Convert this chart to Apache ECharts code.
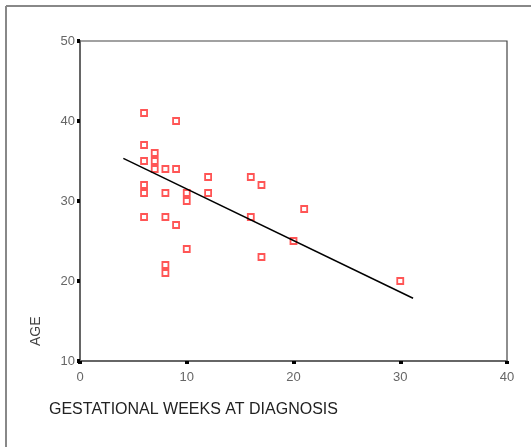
<!DOCTYPE html>
<html>
<head>
<meta charset="utf-8">
<script src="https://cdn.jsdelivr.net/npm/echarts@6/dist/echarts.min.js"></script>
<style>
html,body{margin:0;padding:0;background:#fff;}
#c{width:531px;height:447px;}
</style>
</head>
<body>
<div id="c"></div>
<script>
// Data
var weeks = [6, 9, 6, 7, 6, 7, 7, 8, 9, 12, 16, 17, 6, 6, 8, 10, 12, 10, 21, 6, 8, 16, 9, 20, 10, 17, 8, 8, 30];
var ages  = [41, 40, 37, 36, 35, 35, 34, 34, 34, 33, 33, 32, 32, 31, 31, 31, 31, 30, 29, 28, 28, 28, 27, 25, 24, 23, 22, 21, 20];
// Fit line end points as drawn in the reference
var fitX = [4.06, 31.2];
var fitY = [35.33, 17.84];
var xTicks = [0, 10, 20, 30, 40];
var yTicks = [10, 20, 30, 40, 50];
var xTitle = 'GESTATIONAL WEEKS AT DIAGNOSIS';
var yTitle = 'AGE';

var pts = weeks.map(function (w, i) { return [w, ages[i]]; });
var fit = fitX.map(function (x, i) { return [x, fitY[i]]; });

var chart = echarts.init(document.getElementById('c'), null, {renderer: 'canvas'});
var font = 'Liberation Sans, Arial, sans-serif';
chart.setOption({
  animation: false,
  backgroundColor: '#fff',
  grid: {left: 80, top: 41, right: 24, bottom: 86, show: true, borderColor: '#444', borderWidth: 1.2, backgroundColor: 'transparent'},
  xAxis: {
    type: 'value', min: xTicks[0], max: xTicks[xTicks.length - 1], interval: 10,
    splitLine: {show: false},
    axisLine: {show: true, onZero: false, lineStyle: {color: '#666', width: 2}},
    axisTick: {show: true, length: 3, inside: false, lineStyle: {color: '#000', width: 4}},
    axisLabel: {color: '#666', fontSize: 13, fontFamily: font, margin: 10}
  },
  yAxis: {
    type: 'value', min: yTicks[0], max: yTicks[yTicks.length - 1], interval: 10,
    splitLine: {show: false},
    axisLine: {show: true, onZero: false, lineStyle: {color: '#666', width: 2}},
    axisTick: {show: true, length: 3, inside: false, lineStyle: {color: '#000', width: 4}},
    axisLabel: {color: '#666', fontSize: 13, fontFamily: font, margin: 5}
  },
  series: [
    {
      type: 'scatter', data: pts, symbol: 'rect', symbolSize: 6,
      itemStyle: {color: '#fff', borderColor: '#ff2a2a', borderWidth: 1.8},
      z: 3
    },
    {
      type: 'line', data: fit, symbol: 'none', showSymbol: false,
      lineStyle: {color: '#000', width: 1.5}, z: 4
    }
  ],
  graphic: [
    {type: 'line', shape: {x1: 6, y1: 6, x2: 6, y2: 447}, style: {stroke: '#888', lineWidth: 2}},
    {type: 'line', shape: {x1: 6, y1: 6, x2: 531, y2: 6}, style: {stroke: '#888', lineWidth: 2}},
    {type: 'text', left: 49, top: 402, style: {text: xTitle, fill: '#222', font: '16px ' + font}},
    {type: 'text', x: 29, y: 346, rotation: Math.PI / 2, style: {text: yTitle, fill: '#444', font: '14px ' + font, textVerticalAlign: 'top'}}
  ]
});
</script>
</body>
</html>
